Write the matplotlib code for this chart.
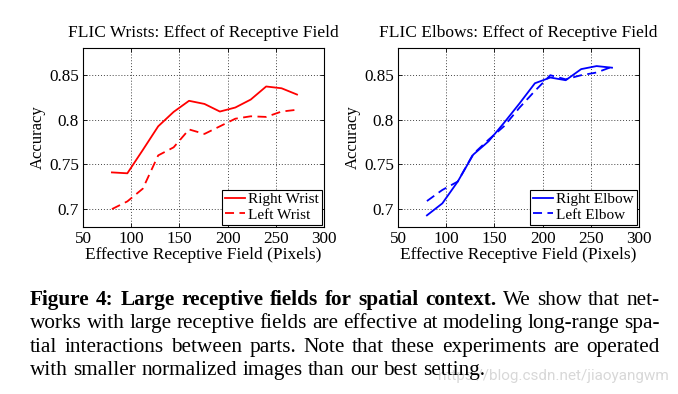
import matplotlib
matplotlib.use("Agg")
import matplotlib.pyplot as plt

# ---- data ----
field_px = [80, 96, 112, 128, 144, 160, 176, 192, 208, 224, 240, 256, 272]
right_wrist = [0.741, 0.740, 0.766, 0.7925, 0.8086, 0.821, 0.8175, 0.809, 0.8135, 0.8224, 0.837, 0.835, 0.828]
left_wrist = [0.700, 0.7086, 0.7228, 0.760, 0.769, 0.789, 0.784, 0.7925, 0.801, 0.8037, 0.803, 0.809, 0.811]
right_elbow = [0.693, 0.7064, 0.7308, 0.7608, 0.7758, 0.7964, 0.818, 0.8406, 0.847, 0.844, 0.8564, 0.8598, 0.858]
left_elbow = [0.709, 0.7214, 0.7308, 0.7615, 0.7776, 0.7926, 0.8133, 0.832, 0.8496, 0.845, 0.8496, 0.8526, 0.859]
x_ticks = [50, 100, 150, 200, 250, 300]
y_ticks = [0.7, 0.75, 0.8, 0.85]
y_tick_labels = ["0.7", "0.75", "0.8", "0.85"]

titles = ["FLIC Wrists: Effect of Receptive Field", "FLIC Elbows: Effect of Receptive Field"]
xlabel = "Effective Receptive Field (Pixels)"
ylabel = "Accuracy"

caption_bold = "Figure 4: Large receptive fields for spatial context."
caption_lines = [
    "We show that net-",
    "works with large receptive fields are effective at modeling long-range spa-",
    "tial interactions between parts.  Note that these experiments are operated",
    "with smaller normalized images than our best setting.",
]
watermark = "https://blog.csdn.net/jiaoyangwm"

SERIF = ["Liberation Serif", "DejaVu Serif"]
plt.rcParams["font.family"] = SERIF

W, H = 678, 394
fig = plt.figure(figsize=(W / 100, H / 100), dpi=100)
fig.patch.set_facecolor("white")

def px_axes(l, t, r, b):
    return fig.add_axes([l / W, 1 - b / H, (r - l) / W, (b - t) / H])

ax1 = px_axes(83, 48, 324, 227)
ax2 = px_axes(398, 48, 639, 227)

series = [
    (ax1, right_wrist, left_wrist, "Right Wrist", "Left Wrist", "#ff0000", titles[0]),
    (ax2, right_elbow, left_elbow, "Right Elbow", "Left Elbow", "#0000ff", titles[1]),
]
for ax, s1, s2, l1, l2, col, title in series:
    ax.plot(field_px, s1, color=col, lw=1.3, ls="-", label=l1)
    ax.plot(field_px, s2, color=col, lw=1.3, ls=(0, (5, 3)), label=l2)
    ax.set_xlim(50, 300)
    ax.set_ylim(0.68, 0.88)
    ax.set_xticks(x_ticks)
    ax.set_yticks(y_ticks)
    ax.set_yticklabels(y_tick_labels)
    ax.grid(True, color="#444444", ls=(0, (1, 2)), lw=0.7)
    ax.tick_params(direction="in", length=3, width=0.6, labelsize=12.3,
                   top=True, right=True, pad=3, colors="black")
    for sp in ax.spines.values():
        sp.set_linewidth(0.8)
    ax.set_title(title, fontsize=12.5, pad=8)
    ax.set_xlabel(xlabel, fontsize=12.5, labelpad=0)
    ax.set_ylabel(ylabel, fontsize=12, labelpad=2)
    leg = ax.legend(loc="lower right", fontsize=11, frameon=True, fancybox=False,
                    edgecolor="black", framealpha=1, borderpad=0.2, labelspacing=0.1,
                    handlelength=1.3, handletextpad=0.2, borderaxespad=0.15)
    leg.get_frame().set_linewidth(0.8)

# ---- caption, justified ----
fig.canvas.draw()
renderer = fig.canvas.get_renderer()
CAP_FS = 15.3
left_px, right_px = 30, 660
baselines = [305, 328, 352, 375]

def word_width(w, weight):
    t = fig.text(0, 0, w, fontsize=CAP_FS, fontweight=weight)
    bb = t.get_window_extent(renderer)
    t.remove()
    return bb.width

space_w = word_width("a b", "normal") - word_width("ab", "normal")

def place_line(words, y, justify):
    widths = [word_width(w, wt) for w, wt in words]
    if justify and len(words) > 1:
        gap = (right_px - left_px - sum(widths)) / (len(words) - 1)
    else:
        gap = space_w
    x = left_px
    for (w, wt), wd in zip(words, widths):
        fig.text(x / W, 1 - y / H, w, fontsize=CAP_FS, fontweight=wt,
                 va="baseline", ha="left", color="black")
        x += wd + gap

line0 = [(w, "bold") for w in caption_bold.split()] + [(w, "normal") for w in caption_lines[0].split()]
place_line(line0, baselines[0], True)
for i in range(1, 4):
    words = [(w, "normal") for w in caption_lines[i].split()]
    place_line(words, baselines[i], i < 3)

fig.text(438 / W, 1 - 380 / H, watermark, fontsize=11, color="#d8d8d8",
         family=["Roboto", "DejaVu Sans"], ha="left", va="baseline", zorder=-1)

fig.savefig("out.png", dpi=100, facecolor="white")
